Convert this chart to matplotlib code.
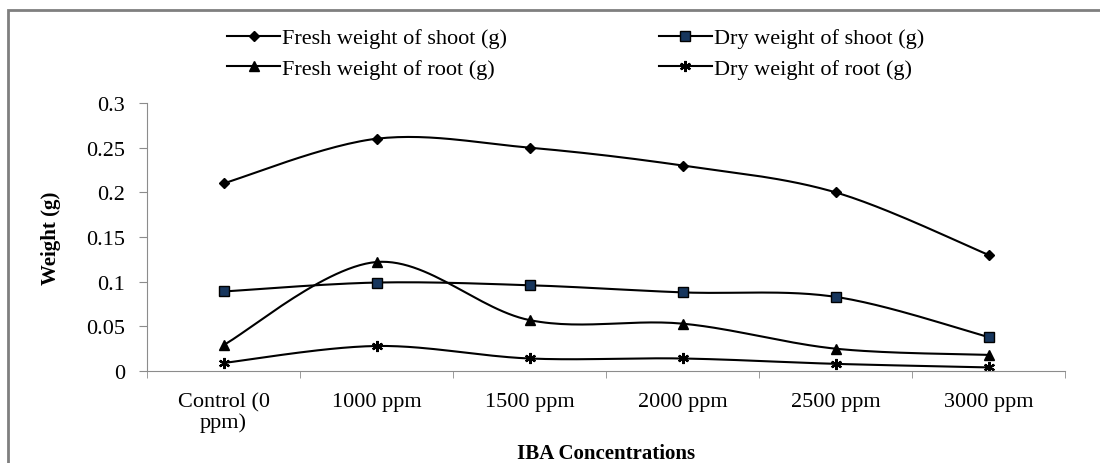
import numpy as np
import matplotlib
matplotlib.use('Agg')
import matplotlib.pyplot as plt
from matplotlib.patches import Rectangle

plt.rcParams['font.family'] = ['Liberation Serif', 'DejaVu Serif']

categories = ['Control (0\nppm)', '1000 ppm', '1500 ppm', '2000 ppm', '2500 ppm', '3000 ppm']
fresh_shoot = [0.21, 0.26, 0.25, 0.23, 0.20, 0.13]
dry_shoot = [0.089, 0.099, 0.096, 0.088, 0.083, 0.038]
fresh_root = [0.029, 0.122, 0.057, 0.053, 0.025, 0.018]
dry_root = [0.009, 0.028, 0.014, 0.014, 0.008, 0.004]


# Excel style smoothed line (cardinal bezier through the points)
def smooth(x, y, n=30):
    x = np.asarray(x, float)
    y = np.asarray(y, float)
    px = np.concatenate([[x[0]], x, [x[-1]]])
    py = np.concatenate([[y[0]], y, [y[-1]]])
    xs, ys = [], []
    for i in range(1, len(px) - 2):
        p0 = np.array([px[i], py[i]])
        p3 = np.array([px[i + 1], py[i + 1]])
        c1 = p0 + (p3 - np.array([px[i - 1], py[i - 1]])) / 6.0
        c2 = p3 - (np.array([px[i + 2], py[i + 2]]) - p0) / 6.0
        t = np.linspace(0, 1, n)[:, None]
        b = (1 - t) ** 3 * p0 + 3 * (1 - t) ** 2 * t * c1 + 3 * (1 - t) * t ** 2 * c2 + t ** 3 * p3
        xs.extend(b[:, 0])
        ys.extend(b[:, 1])
    return xs, ys


fig = plt.figure(figsize=(11, 4.64), dpi=100)
fig.patches.append(Rectangle((8 / 1100, -0.1), 1.2, 1 - 11 / 464 + 0.1, transform=fig.transFigure,
                             fill=False, edgecolor='#7f7f7f', linewidth=2))
ax = fig.add_axes([147 / 1100, 92 / 464, 918 / 1100, 268 / 464])

x = np.arange(len(categories))
series = [
    (fresh_shoot, 'Fresh weight of shoot (g)', dict(marker='D', markersize=5, markerfacecolor='black', markeredgecolor='black')),
    (dry_shoot, 'Dry weight of shoot (g)', dict(marker='s', markersize=7, markerfacecolor='#17365d', markeredgecolor='black')),
    (fresh_root, 'Fresh weight of root (g)', dict(marker='^', markersize=7, markerfacecolor='black', markeredgecolor='black')),
    (dry_root, 'Dry weight of root (g)', dict(marker=(6, 2, 0), markersize=8, markeredgewidth=1.6, markeredgecolor='black')),
]
handles = []
for vals, name, mk in series:
    sx, sy = smooth(x, vals)
    ax.plot(sx, sy, color='black', linewidth=1.5)
    ax.plot(x, vals, linestyle='none', **mk)
    h, = ax.plot([], [], color='black', linewidth=1.5, label=name, **mk)
    handles.append(h)

ax.set_xlim(-0.5, len(categories) - 0.5)
ax.set_ylim(0, 0.3)
ax.set_yticks(np.arange(0, 0.301, 0.05))
ax.set_yticklabels(['0', '0.05', '0.1', '0.15', '0.2', '0.25', '0.3'])
ax.set_xticks(x)
ax.set_xticklabels(categories, linespacing=1.1)
ax.set_xticks(np.arange(-0.5, len(categories), 1), minor=True)
ax.tick_params(axis='x', which='major', length=0, pad=15, labelsize=16)
ax.tick_params(axis='x', which='minor', length=5, color='#8c8c8c')
ax.tick_params(axis='y', length=6, color='#8c8c8c', labelsize=16, pad=10)
for s in ['top', 'right']:
    ax.spines[s].set_visible(False)
for s in ['left', 'bottom']:
    ax.spines[s].set_color('#8c8c8c')

ax.set_ylabel('Weight (g)', fontsize=15, fontweight='bold', labelpad=18)
ax.set_xlabel('IBA Concentrations', fontsize=15, fontweight='bold', labelpad=8)

# legend rows: fresh/dry shoot on top, fresh/dry root below
order = [handles[0], handles[2], handles[1], handles[3]]
fig.legend(handles=order, loc='upper left', bbox_to_anchor=(218 / 1100, 1 - 20 / 464), ncol=2,
           frameon=False, fontsize=16, handlelength=2.4, handletextpad=0.1, columnspacing=6.8,
           labelspacing=0.45, borderaxespad=0)

fig.savefig('out.png', dpi=100)
